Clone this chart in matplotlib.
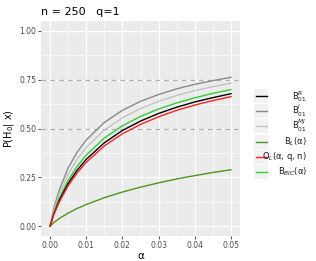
import matplotlib
matplotlib.use("Agg")
import matplotlib.pyplot as plt
from matplotlib.lines import Line2D
from matplotlib.patches import Rectangle
import numpy as np

# values
alpha = [0, 0.001, 0.0025, 0.005, 0.0075, 0.01, 0.015, 0.02, 0.025, 0.03, 0.035, 0.04, 0.045, 0.05]
b_r = [0, 0.060, 0.130, 0.219, 0.287, 0.342, 0.427, 0.490, 0.538, 0.577, 0.609, 0.636, 0.658, 0.678]
b_j = [0, 0.089, 0.184, 0.298, 0.379, 0.441, 0.531, 0.593, 0.639, 0.674, 0.703, 0.726, 0.745, 0.762]
b_mj = [0, 0.077, 0.162, 0.266, 0.343, 0.403, 0.492, 0.555, 0.602, 0.639, 0.669, 0.694, 0.714, 0.732]
b_l = [0, 0.018, 0.039, 0.067, 0.091, 0.111, 0.146, 0.175, 0.200, 0.222, 0.242, 0.259, 0.275, 0.289]
o_l = [0, 0.057, 0.122, 0.207, 0.273, 0.327, 0.411, 0.473, 0.521, 0.560, 0.593, 0.620, 0.643, 0.663]
b_bic = [0, 0.066, 0.141, 0.235, 0.307, 0.364, 0.451, 0.514, 0.562, 0.600, 0.631, 0.657, 0.680, 0.699]
hlines = [0.5, 0.75]

series = [
    (b_r, "black", r"B$_{01}^{R}$"),
    (b_j, "#8a8a8a", r"B$_{01}^{J}$"),
    (b_mj, "#c2c2c2", r"B$_{01}^{MJ}$"),
    (b_l, "#4e961c", r"B$_{L}$(α)"),
    (o_l, "#ff2020", r"O$_{L}$(α, q, n)"),
    (b_bic, "#33cc33", r"B$_{BIC}$(α)"),
]

fig = plt.figure(figsize=(3.16, 2.61), dpi=100)
ax = fig.add_axes([0.1297, 0.0958, 0.63, 0.8237])
ax.set_facecolor("#ebebeb")
for s in ax.spines.values():
    s.set_visible(False)

ax.set_xlim(-0.0025, 0.0525)
ax.set_ylim(-0.05, 1.05)
ax.set_xticks(np.arange(0, 0.051, 0.01))
ax.set_xticklabels(["0.00", "0.01", "0.02", "0.03", "0.04", "0.05"])
ax.set_yticks([0, 0.25, 0.5, 0.75, 1.0])
ax.set_yticklabels(["0.00", "0.25", "0.50", "0.75", "1.00"])
ax.set_xticks(np.arange(0.005, 0.05, 0.01), minor=True)
ax.set_yticks([0.125, 0.375, 0.625, 0.875], minor=True)
ax.grid(which="major", color="white", lw=0.9)
ax.grid(which="minor", color="white", lw=0.45)
ax.set_axisbelow(True)
ax.tick_params(which="major", length=2, width=0.6, color="#333333",
               labelsize=5.5, labelcolor="#4d4d4d", pad=1.5)
ax.tick_params(which="minor", length=0)

for h in hlines:
    ax.axhline(h, color="#b0b0b0", lw=0.9, ls=(0, (4, 3)), zorder=1.5)

for vals, col, lab in [series[1], series[2], series[3], series[5], series[0], series[4]]:
    ax.plot(alpha, vals, color=col, lw=1.0, zorder=2)

ax.set_xlabel("α", fontsize=7.5, labelpad=1)
ax.set_ylabel(r"P(H$_0$| x)", fontsize=7, labelpad=2)
fig.text(0.1297, 0.955, "n = 250   q=1", fontsize=8, ha="left", va="center")

# legend drawn by hand so labels can be right-aligned like ggplot
ys = [96.3, 111, 126, 141.5, 156.5, 172]
for (vals, col, lab), yp in zip(series, ys):
    yf = 1 - yp / 261
    fig.patches.append(Rectangle((254 / 316, yf - 7 / 261), 14 / 316, 14 / 261,
                                 transform=fig.transFigure, color="#f2f2f2", lw=0))
    fig.lines.append(Line2D([255.5 / 316, 266.5 / 316], [yf, yf], color=col, lw=1.0,
                            transform=fig.transFigure))
    fig.text(307 / 316, yf, lab, fontsize=6, ha="right", va="center", color="#1a1a1a")

fig.savefig("out.png", dpi=100)
